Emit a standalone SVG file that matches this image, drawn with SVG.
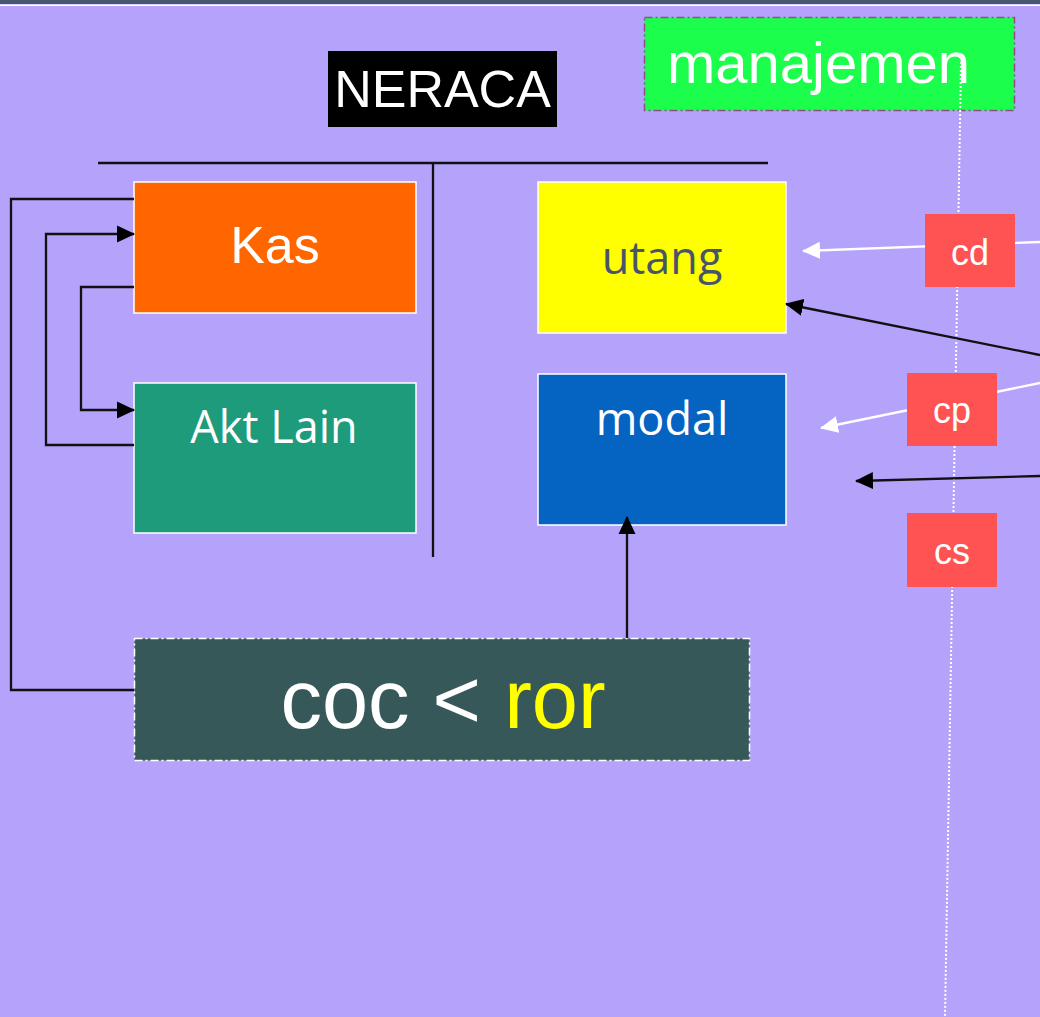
<svg xmlns="http://www.w3.org/2000/svg" width="1040" height="1017" viewBox="0 0 1040 1017">
<defs>
<style>
.sans{font-family:"Liberation Sans",Arial,sans-serif;}
.cal{font-family:"Open Sans","Noto Sans",sans-serif;}
.conn{fill:none;stroke:#111;stroke-width:2.3;}
.wconn{fill:none;stroke:#fff;stroke-width:2.3;}
.red{fill:#FF5252;}
</style>
<marker id="ab" viewBox="0 0 18 18" refX="17" refY="9" markerWidth="18" markerHeight="18" markerUnits="userSpaceOnUse" orient="auto"><path d="M0,0.5 L18,9 L0,17.5 z" fill="#000"/></marker>
<marker id="aw" viewBox="0 0 18 18" refX="17" refY="9" markerWidth="18" markerHeight="18" markerUnits="userSpaceOnUse" orient="auto"><path d="M0,0.5 L18,9 L0,17.5 z" fill="#fff"/></marker>
</defs>
<rect x="0" y="0" width="1040" height="1017" fill="#B4A2FB"/>
<rect x="0" y="0" width="1040" height="4" fill="#465670"/>
<rect x="0" y="4.5" width="1040" height="1.5" fill="#fff"/>

<g id="manajemen">
<rect x="644.5" y="17.5" width="370" height="93" fill="#1BFF4C" stroke="#8E4E8A" stroke-width="1.5" stroke-dasharray="8 3 2 3"/>
<text x="667" y="83" class="sans" font-size="58" fill="#fff">manajemen</text>
</g>

<line id="dotted" x1="961" y1="62" x2="945" y2="1017" stroke="#fff" stroke-width="2" stroke-dasharray="2 2"/>

<g id="neraca">
<rect x="328" y="51" width="229" height="76" fill="#000"/>
<text x="442.5" y="107" class="sans" font-size="52" fill="#fff" text-anchor="middle">NERACA</text>
</g>

<g id="t-account">
<line x1="98" y1="163" x2="768" y2="163" stroke="#111" stroke-width="2.3"/>
<line x1="433" y1="163" x2="433" y2="557" stroke="#111" stroke-width="2.3"/>
</g>

<g id="kas">
<rect x="134" y="182" width="282" height="131" fill="#FF6600" stroke="#fff" stroke-width="1.5"/>
<text x="275" y="263" class="sans" font-size="52" fill="#fff" text-anchor="middle">Kas</text>
</g>

<g id="akt-lain">
<rect x="134" y="383" width="282" height="150" fill="#1E9B7A" stroke="#fff" stroke-width="1.5"/>
<text x="274" y="443" class="cal" font-size="45" fill="#fff" text-anchor="middle">Akt Lain</text>
</g>

<g id="utang">
<rect x="538" y="182" width="248" height="151" fill="#FFFF00" stroke="#fff" stroke-width="1.5"/>
<text x="662" y="274" class="cal" font-size="45" fill="#475569" text-anchor="middle">utang</text>
</g>

<g id="modal">
<rect x="538" y="374" width="248" height="151" fill="#0563C1" stroke="#fff" stroke-width="1.5"/>
<text x="662" y="435" class="cal" font-size="45" fill="#fff" text-anchor="middle">modal</text>
</g>

<g id="coc-ror">
<rect x="134.5" y="638.5" width="615" height="122" fill="#365858" stroke="#fff" stroke-width="1.5" stroke-dasharray="8 3 2 3"/>
<text x="443" y="728" class="sans" font-size="83" fill="#fff" text-anchor="middle">coc &lt; <tspan fill="#FFFF00">ror</tspan></text>
</g>

<g id="connectors">
<polyline class="conn" points="134,199 11,199 11,690 134,690" stroke="#333a4f"/>
<polyline class="conn" points="134,445 46,445 46,234 134,234" marker-end="url(#ab)"/>
<polyline class="conn" points="134,287 81,287 81,410 134,410" marker-end="url(#ab)"/>
<line class="conn" x1="627" y1="638" x2="627" y2="517" marker-end="url(#ab)"/>
<line class="wconn" x1="1040" y1="242" x2="803" y2="251" marker-end="url(#aw)"/>
<line class="conn" x1="1040" y1="355" x2="786" y2="304" marker-end="url(#ab)"/>
<line class="wconn" x1="1040" y1="383" x2="821" y2="428" marker-end="url(#aw)"/>
<line class="conn" x1="1040" y1="476" x2="856" y2="481" marker-end="url(#ab)"/>
</g>

<g id="cd">
<rect class="red" x="925" y="214" width="90" height="73"/>
<text x="970" y="265" class="sans" font-size="36" fill="#fff" text-anchor="middle">cd</text>
</g>
<g id="cp">
<rect class="red" x="907" y="373" width="90" height="73"/>
<text x="952" y="423" class="sans" font-size="36" fill="#fff" text-anchor="middle">cp</text>
</g>
<g id="cs">
<rect class="red" x="907" y="513" width="90" height="74"/>
<text x="952" y="564" class="sans" font-size="36" fill="#fff" text-anchor="middle">cs</text>
</g>
</svg>
